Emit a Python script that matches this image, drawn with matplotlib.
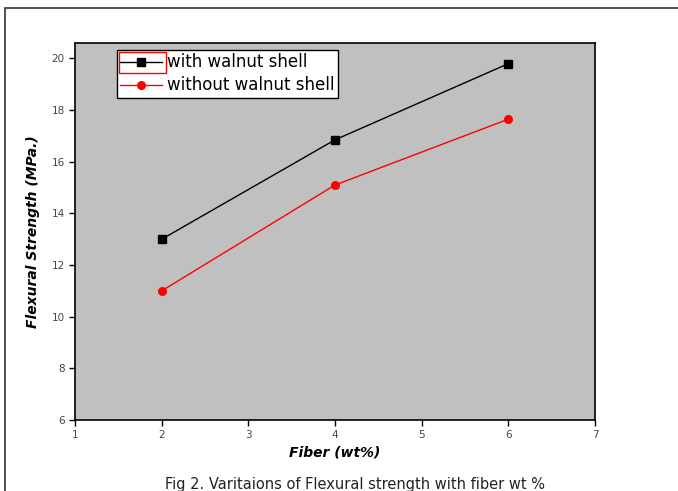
import matplotlib.pyplot as plt
from matplotlib.patches import Rectangle

fiber = [2, 4, 6]
with_shell = [13.0, 16.85, 19.8]
without_shell = [11.0, 15.1, 17.65]

W, H = 678, 491
fig = plt.figure(figsize=(W / 100, H / 100), dpi=100)
fig.patch.set_facecolor("white")

# outer frame of the figure panel
fig.add_artist(Rectangle((5 / W, -0.1), 1.2, 1 - 8 / H + 0.1, transform=fig.transFigure,
                         fill=False, edgecolor="#333333", lw=1.2))

ax = fig.add_axes([75 / W, 1 - 420 / H, 520 / W, 377 / H])
ax.set_facecolor("#c0c0c0")

ax.plot(fiber, with_shell, color="black", lw=1, marker="s", ms=5.5, label="with walnut shell")
ax.plot(fiber, without_shell, color="red", lw=1, marker="o", ms=5.5, label="without walnut shell")

ax.set_xlim(1, 7)
ax.set_ylim(6, 20.6)
ax.set_xticks(range(1, 8))
ax.set_yticks(range(6, 21, 2))
ax.tick_params(direction="out", length=4, width=1, labelsize=7.5, labelcolor="#444444")
for s in ax.spines.values():
    s.set_linewidth(1.2)

ax.set_xlabel("Fiber (wt%)", fontsize=10, fontweight="bold", style="italic", labelpad=4)
ax.set_ylabel("Flexural Strength (MPa.)", fontsize=10, fontweight="bold", style="italic", labelpad=8)

leg = ax.legend(loc="upper left", bbox_to_anchor=(42 / 520, 1 - 7 / 377), fontsize=12,
                frameon=True, fancybox=False, edgecolor="black", facecolor="white",
                framealpha=1, handlelength=2.5, borderpad=0.2, labelspacing=0.3,
                handletextpad=0.3, borderaxespad=0)
leg.get_frame().set_linewidth(1)

# red selection box around first legend handle
fig.canvas.draw()
lb = leg.get_window_extent(fig.canvas.get_renderer())
fig.add_artist(Rectangle((lb.x0 + 2, lb.y1 - 23), 47, 21,
                         transform=None, fill=False, edgecolor="red", lw=1))

fig.text(355 / W, 1 - 484 / H, "Fig 2. Varitaions of Flexural strength with fiber wt %",
         ha="center", va="center", fontsize=10.5, color="#222222")

fig.savefig("out.png", dpi=100)
